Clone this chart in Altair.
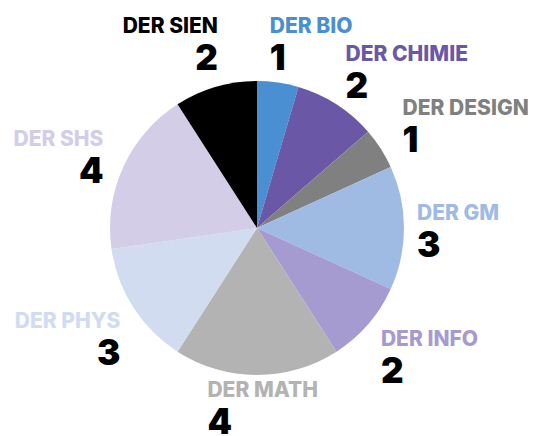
import math
import altair as alt
import pandas as pd

# ---- data ----
categories = ["DER BIO", "DER CHIMIE", "DER DESIGN", "DER GM", "DER INFO",
              "DER MATH", "DER PHYS", "DER SHS", "DER SIEN"]
values = [1, 2, 1, 3, 2, 4, 3, 4, 2]
colors = ["#4a8fd1", "#6a58a6", "#808080", "#9fbbe3", "#a69bd0",
          "#b3b3b3", "#d1dcf0", "#d4cde8", "#000000"]

df = pd.DataFrame({"cat": categories, "value": values,
                   "idx": list(range(len(categories)))})

W, H = 480, 400
PIE_R = 147
LABEL_R = 160
HH = 26.5
NAME_FONT = "Inter"
NUM_FONT = "Inter"

# small per-label nudges (layout only)
nudge = {"DER SIEN": (6, -6), "DER BIO": (-10, 0), "DER CHIMIE": (2, 0),
         "DER DESIGN": (11, -2), "DER GM": (0, 2), "DER INFO": (3, 6),
         "DER MATH": (0, -7), "DER PHYS": (-2, 10), "DER SHS": (-8, 6)}

total = sum(values)

pie = alt.Chart(df).mark_arc(radius=PIE_R, stroke=None).encode(
    theta=alt.Theta("value:Q", stack=True),
    order=alt.Order("idx:Q"),
    color=alt.Color("cat:N", scale=alt.Scale(domain=categories, range=colors),
                    legend=None),
)

layers = [pie]
cum = 0
for cat, v, col in zip(categories, values, colors):
    theta = 2 * math.pi * (cum + v / 2) / total
    cum += v
    s, c = math.sin(theta), math.cos(theta)
    if s > 0.1:
        align, dx = "left", 0
    elif s < -0.1:
        align, dx = "right", 0
    else:
        align, dx = "left", -6.2 * len(cat)
    ndx, ndy = nudge[cat]
    shift = -HH * c + ndy
    sel = alt.datum.cat == cat
    name_layer = alt.Chart(df).mark_text(
        radius=LABEL_R, align=align, baseline="alphabetic",
        dx=dx + ndx, dy=shift - 10.5, font=NAME_FONT, fontSize=21,
        fontWeight=800, color=col,
    ).encode(
        theta=alt.Theta("value:Q", stack=True),
        order=alt.Order("idx:Q"),
        text=alt.condition(sel, "cat:N", alt.value("")),
    )
    num_layer = alt.Chart(df).mark_text(
        radius=LABEL_R, align=align, baseline="alphabetic",
        dx=dx + ndx, dy=shift + 26.5, font=NUM_FONT, fontSize=35,
        fontWeight=900, color="#000000",
    ).encode(
        theta=alt.Theta("value:Q", stack=True),
        order=alt.Order("idx:Q"),
        text=alt.condition(sel, "value:Q", alt.value("")),
    )
    layers += [name_layer, num_layer]

chart = alt.layer(*layers).properties(
    width=W, height=H,
    autosize=alt.AutoSizeParams(type="none"),
    padding={"left": 9, "top": 20, "right": 31, "bottom": 8},
).configure_view(stroke=None)

chart.save("out.html", embed_options={"renderer": "svg", "actions": False})
